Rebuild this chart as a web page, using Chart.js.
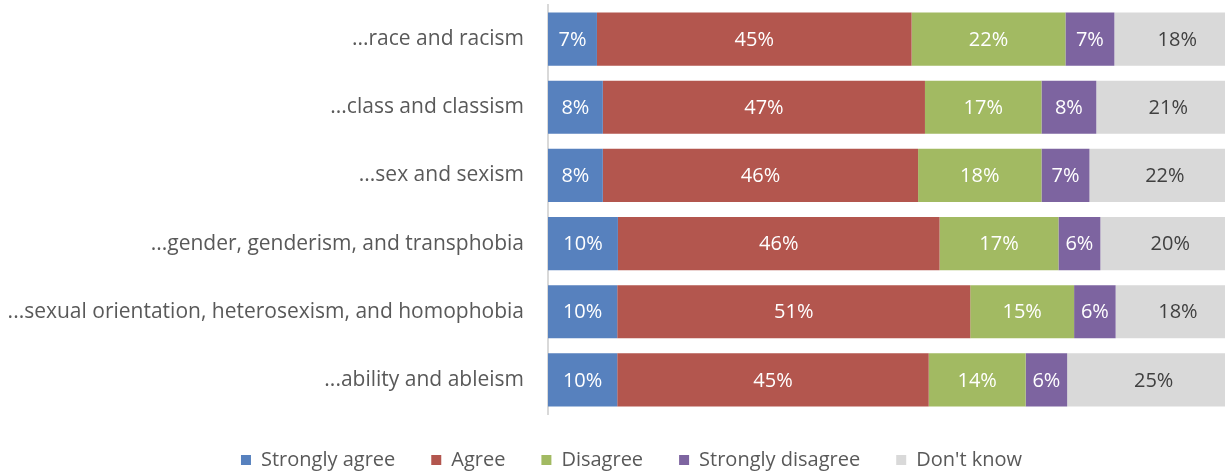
<!DOCTYPE html>
<html>
<head>
<meta charset="utf-8">
<script src="https://cdn.jsdelivr.net/npm/chart.js@4"></script>
<style>
  html, body { margin: 0; padding: 0; background: #fff; }
  #wrap { width: 1225px; height: 472px; }
</style>
</head>
<body>
<div id="wrap"><canvas id="surveyChart"></canvas></div>
<script>
const categories = [
  '...race and racism',
  '...class and classism',
  '...sex and sexism',
  '...gender, genderism, and transphobia',
  '...sexual orientation, heterosexism, and homophobia',
  '...ability and ableism'
];

const stronglyAgree    = [7, 8, 8, 10, 10, 10];
const agree            = [45, 47, 46, 46, 51, 45];
const disagree         = [22, 17, 18, 17, 15, 14];
const stronglyDisagree = [7, 8, 7, 6, 6, 6];
const dontKnow         = [18, 21, 22, 20, 18, 25];

const seriesNames  = ['Strongly agree', 'Agree', 'Disagree', 'Strongly disagree', "Don't know"];
const seriesColors = ['#5781be', '#b3564e', '#a2ba62', '#7d64a0', '#d9d9d9'];
const labelColors  = ['#ffffff', '#ffffff', '#ffffff', '#ffffff', '#404040'];

const raw = [stronglyAgree, agree, disagree, stronglyDisagree, dontKnow];

// 100% stacked: each row scaled to its own total
const totals = categories.map((c, i) => raw.reduce((s, arr) => s + arr[i], 0));

const datasets = raw.map((arr, k) => ({
  label: seriesNames[k],
  data: arr.map((v, i) => v / totals[i] * 100),
  shown: arr,
  backgroundColor: seriesColors[k],
  borderWidth: 0,
  categoryPercentage: 1,
  barPercentage: 0.78
}));

// draw the "7%" style labels in the middle of each segment
const segmentLabels = {
  id: 'segmentLabels',
  afterDatasetsDraw(chart) {
    const ctx = chart.ctx;
    ctx.save();
    ctx.font = '20px "Open Sans"';
    ctx.textAlign = 'center';
    ctx.textBaseline = 'middle';
    chart.data.datasets.forEach((ds, k) => {
      chart.getDatasetMeta(k).data.forEach((bar, i) => {
        const p = bar.getCenterPoint();
        ctx.fillStyle = labelColors[k];
        ctx.fillText(ds.shown[i] + '%', p.x, p.y + 1);
      });
    });
    ctx.restore();
  }
};

// legend sits centred under the plot area, not the whole canvas
const shiftLegend = {
  id: 'shiftLegend',
  afterLayout(chart) {
    chart.legend.left = 38;
  }
};

const ctx = document.getElementById('surveyChart').getContext('2d');

new Chart(ctx, {
  type: 'bar',
  data: { labels: categories, datasets: datasets },
  plugins: [segmentLabels, shiftLegend],
  options: {
    indexAxis: 'y',
    responsive: true,
    maintainAspectRatio: false,
    animation: false,
    layout: { padding: { left: 0, top: 5, right: 0, bottom: -8 } },
    scales: {
      x: {
        stacked: true,
        min: 0,
        max: 97.8,
        display: false
      },
      y: {
        stacked: true,
        grid: { display: false, drawTicks: false },
        border: { display: true, color: '#d9d9d9', width: 2 },
        ticks: {
          padding: 24,
          color: '#595959',
          font: { family: 'Open Sans', size: 21 }
        },
        afterFit(scale) {
          scale.width = 548;
          // tick padding would otherwise push the plot down
          scale.paddingTop = 0;
          scale.paddingBottom = 0;
        }
      }
    },
    plugins: {
      tooltip: { enabled: false },
      legend: {
        position: 'bottom',
        labels: {
          boxWidth: 10,
          boxHeight: 10,
          padding: 36,
          color: '#595959',
          font: { family: 'Open Sans', size: 20 }
        }
      }
    }
  }
});
</script>
</body>
</html>
